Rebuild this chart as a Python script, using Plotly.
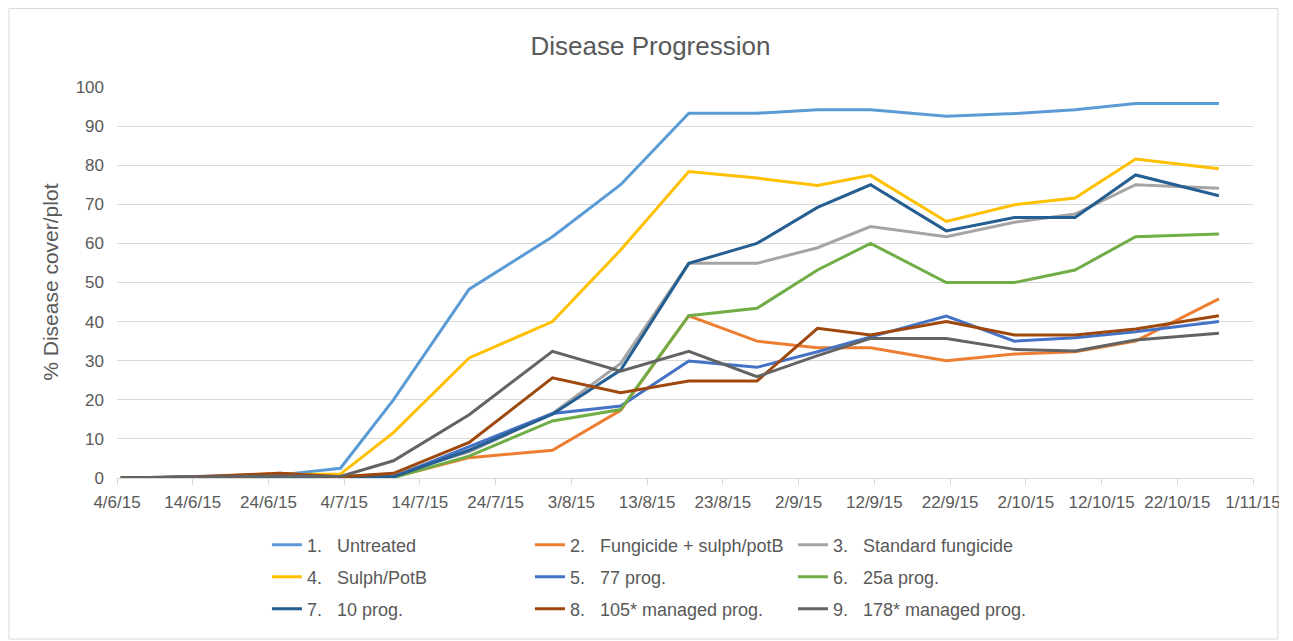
from datetime import datetime, timedelta

import plotly.graph_objects as go

# assessment dates (Excel plots each point in the middle of its day slot)
dates = ["2015-06-04", "2015-06-14", "2015-06-25", "2015-07-03", "2015-07-10",
         "2015-07-20", "2015-07-31", "2015-08-09", "2015-08-18", "2015-08-27",
         "2015-09-04", "2015-09-11", "2015-09-21", "2015-09-30", "2015-10-08",
         "2015-10-16", "2015-10-27"]

untreated  = [0, 0.3, 0.8, 2.5, 20.0, 48.3, 61.7, 75.0, 93.3, 93.3, 94.2, 94.2, 92.5, 93.2, 94.2, 95.8, 95.8]
fung_sulph = [0, 0.2, 1.2, 0.3, 0.2, 5.2, 7.1, 17.3, 41.5, 35.0, 33.3, 33.3, 30.0, 31.7, 32.3, 35.0, 45.8]
standard   = [0, 0.2, 0.8, 0.3, 1.0, 6.7, 16.5, 29.3, 54.9, 54.9, 58.9, 64.3, 61.7, 65.4, 67.5, 75.0, 74.1]
sulph_potb = [0, 0.2, 0.8, 1.0, 11.6, 30.7, 40.0, 58.3, 78.4, 76.7, 74.8, 77.4, 65.6, 69.9, 71.6, 81.6, 79.1]
prog_77    = [0, 0.2, 0.5, 0.2, 0.3, 8.0, 16.5, 18.4, 29.9, 28.3, 32.3, 36.1, 41.4, 35.0, 35.9, 37.4, 40.0]
prog_25a   = [0, 0.1, 0.3, 0.1, 0.1, 5.6, 14.6, 17.5, 41.5, 43.4, 53.2, 60.0, 50.0, 50.0, 53.2, 61.7, 62.4]
prog_10    = [0, 0.2, 0.5, 0.2, 0.3, 7.1, 16.3, 27.6, 54.9, 60.0, 69.2, 75.0, 63.2, 66.6, 66.6, 77.5, 72.2]
prog_105   = [0, 0.3, 1.2, 0.3, 1.2, 9.1, 25.6, 21.8, 24.8, 24.8, 38.3, 36.6, 40.0, 36.6, 36.6, 38.1, 41.5]
prog_178   = [0, 0.2, 0.5, 0.4, 4.4, 16.2, 32.4, 27.3, 32.4, 25.9, 31.3, 35.7, 35.7, 32.9, 32.5, 35.3, 37.0]

series_names = ["1.\u00a0\u00a0\u00a0Untreated", "2.\u00a0\u00a0\u00a0Fungicide + sulph/potB",
                "3.\u00a0\u00a0\u00a0Standard fungicide", "4.\u00a0\u00a0\u00a0Sulph/PotB",
                "5.\u00a0\u00a0\u00a077 prog.", "6.\u00a0\u00a0\u00a025a prog.",
                "7.\u00a0\u00a0\u00a010 prog.", "8.\u00a0\u00a0\u00a0105* managed prog.",
                "9.\u00a0\u00a0\u00a0178* managed prog."]
series_values = [untreated, fung_sulph, standard, sulph_potb, prog_77,
                 prog_25a, prog_10, prog_105, prog_178]
colors = ["#5B9BD5", "#ED7D31", "#A5A5A5", "#FFC000", "#4472C4",
          "#70AD47", "#255E91", "#9E480E", "#636363"]

tick_dates = ["2015-06-04", "2015-06-14", "2015-06-24", "2015-07-04", "2015-07-14",
              "2015-07-24", "2015-08-03", "2015-08-13", "2015-08-23", "2015-09-02",
              "2015-09-12", "2015-09-22", "2015-10-02", "2015-10-12", "2015-10-22",
              "2015-11-01"]
tick_labels = ["4/6/15", "14/6/15", "24/6/15", "4/7/15", "14/7/15", "24/7/15",
               "3/8/15", "13/8/15", "23/8/15", "2/9/15", "12/9/15", "22/9/15",
               "2/10/15", "12/10/15", "22/10/15", "1/11/15"]

TEXT = "#595959"
GRID = "#D9D9D9"
FONT = "Liberation Sans, Arial, sans-serif"

# the page body adds an 8px margin, so the figure is 8px smaller each way
W, H = 1285, 633
PL, PR, PT, PB = 109, 35, 79, 163
PW, PH = W - PL - PR, H - PT - PB

half_day = timedelta(hours=12)
tick_pos = [datetime.fromisoformat(d) - half_day for d in tick_dates]

fig = go.Figure()
legend_ids = ["legend", "legend2", "legend3"]
for i, (name, vals, col) in enumerate(zip(series_names, series_values, colors)):
    fig.add_trace(go.Scatter(
        x=dates, y=vals, mode="lines", name=name,
        line=dict(color=col, width=3),
        legend=legend_ids[i // 3],
    ))

legend_style = dict(orientation="h", entrywidth=218, entrywidthmode="pixels",
                    x=0.132, xanchor="left", yanchor="middle",
                    font=dict(size=18, color=TEXT, family=FONT),
                    bgcolor="rgba(0,0,0,0)")


def xpix(px):
    # figure pixel column -> paper fraction of the plot area
    return (px - PL) / PW


def ypix(py):
    # figure pixel row -> paper fraction of the plot area
    return (PT + PH - py) / PH


BORDER_R = 1275

fig.update_layout(
    width=W, height=H,
    margin=dict(l=PL, r=PR, t=PT, b=PB),
    plot_bgcolor="white", paper_bgcolor="white",
    font=dict(family=FONT, color=TEXT),
    title=dict(text="Disease Progression", x=0.5, xanchor="center",
               y=1 - 38 / H, yanchor="middle",
               font=dict(size=26, color=TEXT, family=FONT)),
    xaxis=dict(type="date",
               range=[datetime(2015, 6, 4) - half_day, datetime(2015, 11, 1) - half_day],
               tickvals=tick_pos, ticktext=tick_labels, tickangle=0,
               showgrid=False, showline=True, linecolor=GRID, linewidth=1,
               ticks="outside", ticklen=6, tickcolor=GRID, ticklabelstandoff=3,
               tickfont=dict(size=17, color=TEXT), zeroline=False),
    yaxis=dict(range=[0, 100], dtick=10, showgrid=True, gridcolor=GRID,
               gridwidth=1, zeroline=False, showline=False,
               ticklabelstandoff=12, tickfont=dict(size=17, color=TEXT)),
    legend=dict(legend_style, y=ypix(537)),
    legend2=dict(legend_style, y=ypix(569)),
    legend3=dict(legend_style, y=ypix(601)),
    annotations=[dict(text="% Disease cover/plot", textangle=-90,
                      x=xpix(42), y=0.5, xref="paper", yref="paper",
                      xanchor="center", yanchor="middle", showarrow=False,
                      font=dict(size=21, color=TEXT, family=FONT))],
    shapes=[
        # chart-area border
        dict(type="rect", xref="paper", yref="paper", layer="below",
             x0=xpix(0.5), x1=xpix(BORDER_R), y0=ypix(631), y1=ypix(0.5),
             line=dict(color=GRID, width=1), fillcolor="rgba(0,0,0,0)"),
        # the chart area clips the last date label at its right edge
        dict(type="rect", xref="paper", yref="paper", layer="above",
             x0=xpix(BORDER_R + 1), x1=xpix(W + 10), y0=ypix(520), y1=ypix(472),
             line=dict(width=0), fillcolor="white"),
    ],
)

fig.write_html("out.html")
